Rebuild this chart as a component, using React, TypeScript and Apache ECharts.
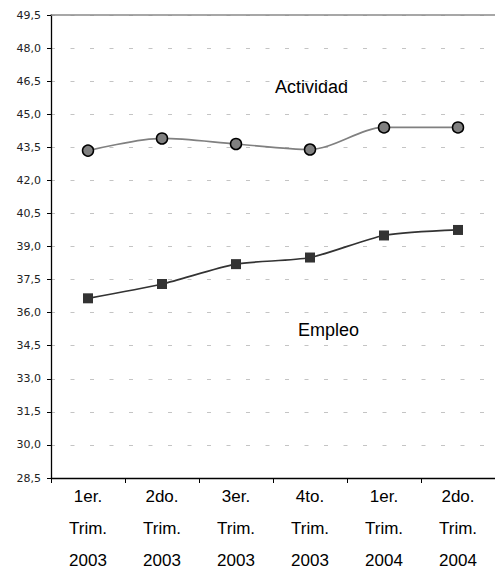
import React, { useEffect, useRef } from "react";
import * as echarts from "echarts";

const categories = [
  "1er.\nTrim.\n2003",
  "2do.\nTrim.\n2003",
  "3er.\nTrim.\n2003",
  "4to.\nTrim.\n2003",
  "1er.\nTrim.\n2004",
  "2do.\nTrim.\n2004",
];
const actividad = [43.35, 43.9, 43.65, 43.4, 44.4, 44.4];
const empleo = [36.65, 37.3, 38.2, 38.5, 39.5, 39.75];
const yMin = 28.5;
const yMax = 49.5;
const yStep = 1.5;
const seriesNames = ["Actividad", "Empleo"];

export default function App() {
  const ref = useRef<HTMLDivElement>(null);
  useEffect(() => {
    if (!ref.current) return;
    const chart = echarts.init(ref.current, null, { renderer: "svg" });
    chart.setOption({
      animation: false,
      backgroundColor: "#ffffff",
      grid: { left: 51, top: 15, width: 449, height: 465, containLabel: false },
      xAxis: [
        {
          type: "category",
          data: categories,
          boundaryGap: true,
          axisLine: { lineStyle: { color: "#000000", width: 1.3 } },
          axisTick: { show: true, length: 5, lineStyle: { color: "#000000", width: 1 } },
          axisLabel: {
            margin: 2,
            fontFamily: "Liberation Sans, Arial, sans-serif",
            fontSize: 17,
            lineHeight: 32,
            color: "#000000",
            interval: 0,
          },
          splitLine: { show: false },
        },
        {
          type: "category",
          position: "top",
          data: categories,
          boundaryGap: true,
          axisLine: { lineStyle: { color: "#8a8a8a", width: 1.5 } },
          axisTick: { show: false },
          axisLabel: { show: false },
          splitLine: { show: false },
        },
      ],
      yAxis: {
        type: "value",
        min: yMin,
        max: yMax,
        interval: yStep,
        axisLine: { show: true, lineStyle: { color: "#000000", width: 1.3 } },
        axisTick: { show: true, length: 4, lineStyle: { color: "#000000" } },
        axisLabel: {
          margin: 10,
          fontFamily: "DejaVu Sans, Verdana, sans-serif",
          fontSize: 11,
          color: "#222222",
          formatter: (v: number) => v.toFixed(1).replace(".", ","),
        },
        splitLine: {
          show: true,
          lineStyle: { color: "#c4c4c4", type: [4, 15.5], width: 1 },
        },
      },
      series: [
        {
          name: seriesNames[0],
          type: "line",
          data: actividad,
          smooth: 0.3,
          symbol: "circle",
          symbolSize: 11,
          lineStyle: { color: "#808080", width: 1.7 },
          itemStyle: { color: "#808080", borderColor: "#000000", borderWidth: 1.5 },
          z: 3,
        },
        {
          name: seriesNames[1],
          type: "line",
          data: empleo,
          smooth: 0.25,
          symbol: "rect",
          symbolSize: 10,
          lineStyle: { color: "#333333", width: 1.7 },
          itemStyle: { color: "#333333", borderColor: "#333333", borderWidth: 0 },
          z: 3,
        },
      ],
      graphic: [
        {
          type: "text",
          left: 275,
          top: 78,
          style: {
            text: seriesNames[0],
            fontFamily: "Liberation Sans, Arial, sans-serif",
            fontSize: 18,
            fill: "#000000",
          },
        },
        {
          type: "text",
          left: 298,
          top: 321,
          style: {
            text: seriesNames[1],
            fontFamily: "Liberation Sans, Arial, sans-serif",
            fontSize: 18,
            fill: "#000000",
          },
        },
      ],
    });
    return () => chart.dispose();
  }, []);
  return (
    <div
      ref={ref}
      style={{ position: "fixed", left: 0, top: 0, width: 495, height: 576, background: "#fff" }}
    />
  );
}
